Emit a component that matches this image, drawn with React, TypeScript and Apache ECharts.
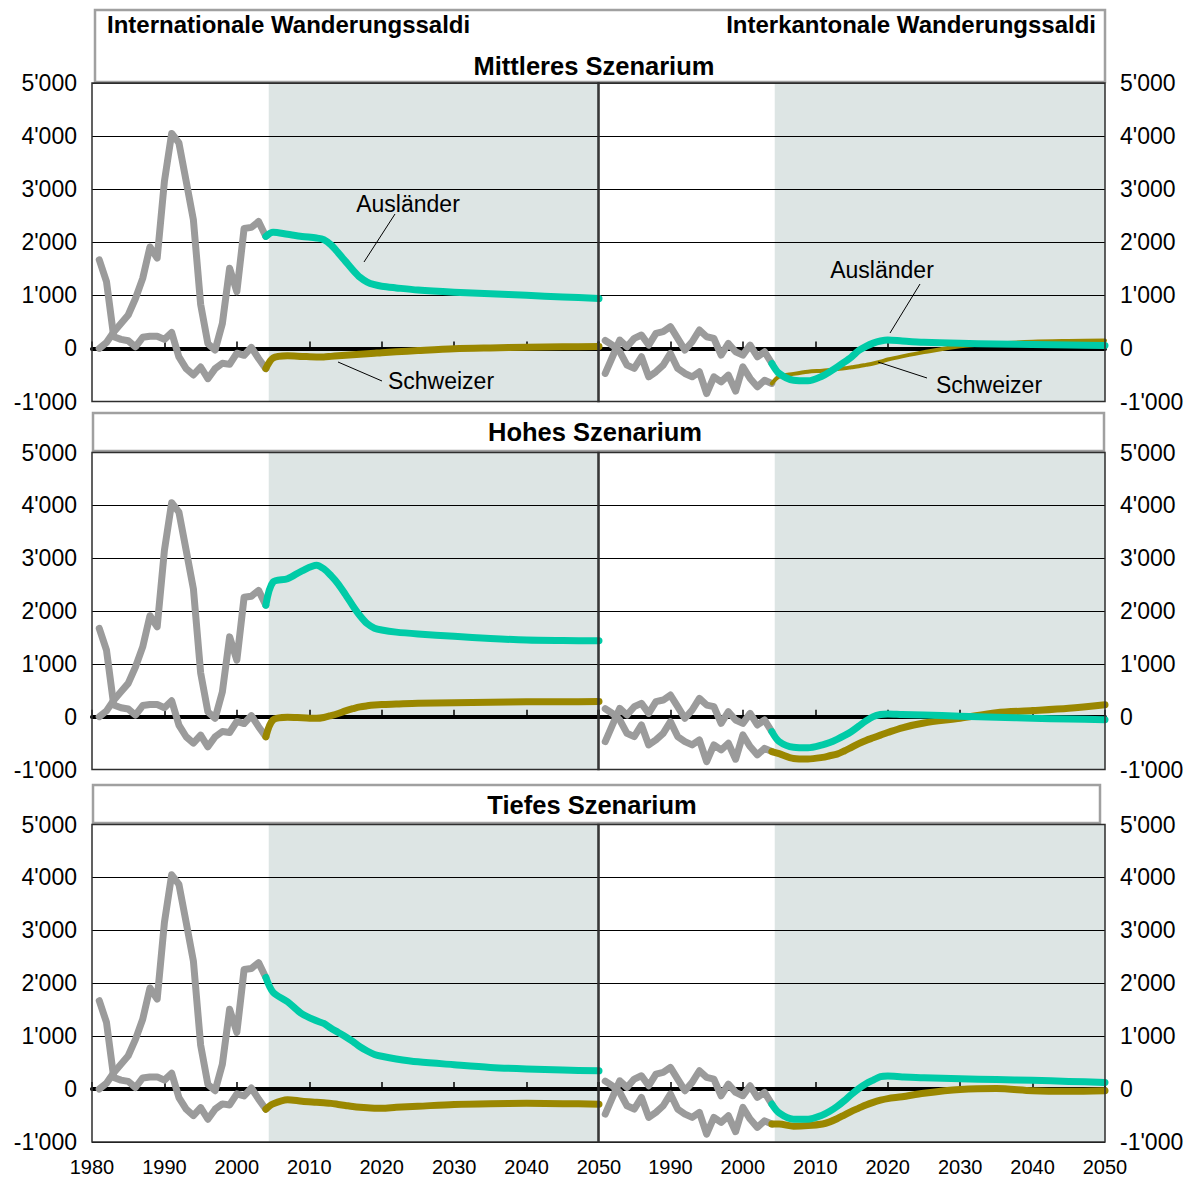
import React, { useEffect, useRef } from 'react';
import * as echarts from 'echarts';

// ---------- data ----------
const histYears = [1981, 1982, 1983, 1984, 1985, 1986, 1987, 1988, 1989, 1990, 1991, 1992,
  1993, 1994, 1995, 1996, 1997, 1998, 1999, 2000, 2001, 2002, 2003, 2004];
// international, observed
const intAuslHist = [0, 110, 310, 470, 630, 940, 1320, 1910, 1700, 3150, 4050, 3870,
  3150, 2420, 830, 90, -30, 470, 1510, 1070, 2260, 2280, 2390, 2110];
const intSchwHist = [1670, 1260, 220, 170, 145, 30, 210, 230, 230, 170, 300, -160,
  -380, -500, -350, -570, -380, -280, -300, -90, -130, 20, -190, -380];
// interkantonal, observed
const kanAuslHist = [-472, -157, 157, 31, 189, 252, 63, 283, 315, 409, 189, -31,
  126, 346, 220, 189, -126, 94, -63, -126, 63, -157, -63, -283];
const kanSchwHist = [150, 60, -60, -315, -377, -157, -535, -440, -315, -94, -377, -472,
  -535, -440, -850, -535, -630, -503, -805, -346, -566, -723, -600, -660];

const projYears = [2004, 2005, 2007, 2009, 2011, 2012, 2013, 2014, 2015, 2016, 2017, 2018,
  2019, 2020, 2022, 2025, 2030, 2035, 2040, 2045, 2050];
// Mittleres Szenarium
const midIntAusl = [2110, 2190, 2150, 2110, 2080, 2050, 1950, 1800, 1640, 1480, 1340, 1250,
  1200, 1170, 1140, 1100, 1060, 1030, 1000, 970, 940];
const midIntSchw = [-380, -180, -140, -150, -160, -160, -150, -140, -130, -120, -110, -100,
  -90, -80, -65, -40, -5, 10, 20, 30, 35];
const midKanAusl = [-283, -470, -600, -610, -520, -440, -352, -260, -160, -40, 40, 100,
  140, 160, 140, 115, 95, 85, 75, 65, 57];
const midKanSchw = [-660, -530, -480, -440, -420, -405, -390, -375, -355, -335, -310, -285,
  -250, -210, -150, -70, 40, 90, 125, 140, 150];
// Hohes Szenarium
const highIntAusl = [2110, 2550, 2610, 2760, 2868, 2800, 2670, 2510, 2310, 2100, 1910, 1760,
  1675, 1640, 1600, 1565, 1520, 1480, 1450, 1440, 1435];
const highIntSchw = [-380, -60, -10, -20, -30, -15, 20, 60, 110, 150, 185, 205,
  220, 230, 240, 255, 265, 275, 280, 283, 285];
const highKanAusl = [-283, -470, -580, -590, -535, -490, -430, -360, -280, -180, -80, 0,
  40, 50, 40, 30, 10, -10, -30, -45, -57];
const highKanSchw = [-660, -700, -790, -800, -770, -740, -710, -650, -580, -510, -450, -400,
  -350, -300, -210, -120, -30, 75, 115, 160, 225];
// Tiefes Szenarium
const lowIntAusl = [2110, 1830, 1650, 1420, 1290, 1240, 1150, 1070, 990, 900, 800, 720,
  655, 620, 570, 515, 460, 410, 380, 360, 345];
const lowIntSchw = [-380, -280, -200, -230, -250, -260, -270, -290, -310, -330, -345, -355,
  -360, -362, -345, -325, -290, -275, -270, -275, -285];
const lowKanAusl = [-283, -450, -570, -570, -490, -420, -330, -220, -100, 10, 100, 170,
  235, 245, 230, 212, 195, 180, 165, 145, 126];
const lowKanSchw = [-660, -660, -700, -690, -660, -620, -560, -490, -420, -360, -300, -250,
  -210, -180, -145, -80, -10, 10, -30, -40, -30];

const projectionStart = 2004.4;
const xMin = 1980;
const xMax = 2050;
const yMin = -1000;
const yMax = 5000;

const scenarioTitles = ['Mittleres Szenarium', 'Hohes Szenarium', 'Tiefes Szenarium'];
const columnTitles = ['Internationale Wanderungssaldi', 'Interkantonale Wanderungssaldi'];
const seriesNames = ['Ausländer', 'Schweizer'];

// ---------- style / layout ----------
const FONT = '"Liberation Sans", Arial, Helvetica, sans-serif';
const GRAY = '#9b9b9b';
const CYAN = '#00cba7';
const OLIVE = '#9a8700';
const SHADE = '#dde5e4';
const BOX = '#a0a0a0';
const LW = 7;

const COLS = [{ left: 92, width: 507 }, { left: 598, width: 507 }];
const ROWS = [
  { top: 83, height: 318.5 },
  { top: 452.5, height: 317 },
  { top: 824.5, height: 317.5 },
];

const fmt = (v: number) => {
  if (v === 0) return '0';
  const a = Math.abs(v);
  const th = Math.floor(a / 1000);
  const rest = String(a % 1000).padStart(3, '0');
  return (v < 0 ? '-' : '') + (th > 0 ? th + "'" + rest : String(a));
};

const pair = (xs: number[], ys: number[]) => xs.map((x, i) => [x, ys[i]]);

function buildOption() {
  const proj = [
    [[midIntAusl, midIntSchw], [midKanAusl, midKanSchw]],
    [[highIntAusl, highIntSchw], [highKanAusl, highKanSchw]],
    [[lowIntAusl, lowIntSchw], [lowKanAusl, lowKanSchw]],
  ];
  const hist = [[intAuslHist, intSchwHist], [kanAuslHist, kanSchwHist]];

  const grid: any[] = [];
  const xAxis: any[] = [];
  const yAxis: any[] = [];
  const series: any[] = [];
  const graphic: any[] = [];

  let idx = 0;
  for (let r = 0; r < 3; r++) {
    for (let c = 0; c < 2; c++) {
      const g = { left: COLS[c].left, top: ROWS[r].top, width: COLS[c].width, height: ROWS[r].height };
      grid.push({ ...g, containLabel: false });
      xAxis.push({
        type: 'value', gridIndex: idx, min: xMin, max: xMax, interval: 10, z: 2,
        axisLine: { show: true, onZero: true, lineStyle: { color: '#000', width: 4 } },
        axisTick: { show: true, inside: true, length: 7, lineStyle: { color: '#000', width: 1.5 } },
        axisLabel: { show: false },
        splitLine: { show: false },
      });
      yAxis.push({
        type: 'value', gridIndex: idx, min: yMin, max: yMax, interval: 1000, z: 2,
        position: c === 0 ? 'left' : 'right',
        axisLine: { show: false }, axisTick: { show: false },
        splitLine: { show: true, lineStyle: { color: '#000', width: 1 } },
        axisLabel: { show: true, formatter: fmt, fontSize: 23, color: '#000', fontFamily: FONT, margin: 15 },
      });

      const [ha, hs] = hist[c];
      const [pa, ps] = proj[r][c];
      series.push({
        type: 'line', name: seriesNames[0] + ' hist', xAxisIndex: idx, yAxisIndex: idx, z: 3,
        data: pair(histYears, ha), symbol: 'none', silent: true,
        lineStyle: { color: GRAY, width: LW, join: 'round', cap: 'round' },
        markArea: {
          silent: true, z: 1, itemStyle: { color: SHADE, borderWidth: 0 },
          data: [[{ xAxis: projectionStart }, { xAxis: xMax }]],
        },
      });
      series.push({
        type: 'line', name: seriesNames[1] + ' hist', xAxisIndex: idx, yAxisIndex: idx, z: 3,
        data: pair(histYears, hs), symbol: 'none', silent: true,
        lineStyle: { color: GRAY, width: LW, join: 'round', cap: 'round' },
      });
      series.push({
        type: 'line', name: seriesNames[1], xAxisIndex: idx, yAxisIndex: idx, z: 4,
        data: pair(projYears, ps), symbol: 'none', silent: true, smooth: 0.3,
        lineStyle: { color: OLIVE, width: r === 0 && c === 1 ? 4 : LW, join: 'round', cap: 'round' },
      });
      series.push({
        type: 'line', name: seriesNames[0], xAxisIndex: idx, yAxisIndex: idx, z: 5,
        data: pair(projYears, pa), symbol: 'none', silent: true, smooth: 0.3,
        lineStyle: { color: CYAN, width: LW, join: 'round', cap: 'round' },
      });

      graphic.push({
        type: 'rect', z: 40, silent: true,
        shape: { x: g.left, y: g.top, width: g.width, height: g.height },
        style: { fill: 'none', stroke: '#2e2e2e', lineWidth: 1.5 },
      });
      idx++;
    }
  }

  // label-only x axes for the bottom row
  [4, 5].forEach((gi) => {
    xAxis.push({
      type: 'value', gridIndex: gi, position: 'bottom', min: xMin, max: xMax, interval: 10, z: 2,
      axisLine: { show: false, onZero: false }, axisTick: { show: false }, splitLine: { show: false },
      axisLabel: {
        show: true, fontSize: 20, color: '#000', fontFamily: FONT, margin: 15,
        formatter: (v: number) => String(v),
        showMinLabel: gi === 4, showMaxLabel: true,
      },
    });
  });

  // title boxes
  graphic.push({
    type: 'rect', z: 30, silent: true,
    shape: { x: 95, y: 10, width: 1010, height: 72 },
    style: { fill: '#fff', stroke: BOX, lineWidth: 2.5 },
  });
  graphic.push({
    type: 'rect', z: 30, silent: true,
    shape: { x: 93, y: 413, width: 1011, height: 38 },
    style: { fill: '#fff', stroke: BOX, lineWidth: 2.5 },
  });
  graphic.push({
    type: 'rect', z: 30, silent: true,
    shape: { x: 93, y: 785, width: 1007, height: 38 },
    style: { fill: '#fff', stroke: BOX, lineWidth: 2.5 },
  });

  const txt = (text: string, x: number, y: number, align: string, font: string) => ({
    type: 'text', z: 45, silent: true, x, y,
    style: { text, font, fill: '#000', textAlign: align, textVerticalAlign: 'middle' },
  });
  const boldHead = `bold 24px ${FONT}`;
  const boldScen = `bold 25.5px ${FONT}`;
  const reg = `23px ${FONT}`;
  graphic.push(txt(columnTitles[0], 107, 24, 'left', boldHead));
  graphic.push(txt(columnTitles[1], 1096, 24, 'right', boldHead));
  graphic.push(txt(scenarioTitles[0], 594, 66, 'center', boldScen));
  graphic.push(txt(scenarioTitles[1], 595, 432, 'center', boldScen));
  graphic.push(txt(scenarioTitles[2], 592, 805, 'center', boldScen));

  // annotations (Mittleres Szenarium)
  graphic.push(txt(seriesNames[0], 408, 204, 'center', reg));
  graphic.push(txt(seriesNames[1], 441, 381, 'center', reg));
  graphic.push(txt(seriesNames[0], 882, 270, 'center', reg));
  graphic.push(txt(seriesNames[1], 989, 385, 'center', reg));
  const lead = (x1: number, y1: number, x2: number, y2: number) => ({
    type: 'line', z: 45, silent: true,
    shape: { x1, y1, x2, y2 },
    style: { stroke: '#000', lineWidth: 1 },
  });
  graphic.push(lead(395, 214, 364, 262));
  graphic.push(lead(382, 381, 338, 362));
  graphic.push(lead(920, 284, 890, 333));
  graphic.push(lead(927, 378, 878, 362));

  return {
    animation: false,
    backgroundColor: '#fff',
    textStyle: { fontFamily: FONT },
    grid, xAxis, yAxis, series, graphic,
  };
}

export default function App() {
  const ref = useRef<HTMLDivElement>(null);
  useEffect(() => {
    if (!ref.current) return;
    const chart = echarts.init(ref.current, null, { renderer: 'svg' });
    chart.setOption(buildOption() as any);
    return () => chart.dispose();
  }, []);
  return (
    <div
      ref={ref}
      style={{ position: 'absolute', left: 0, top: 0, width: 1190, height: 1177, background: '#fff' }}
    />
  );
}
